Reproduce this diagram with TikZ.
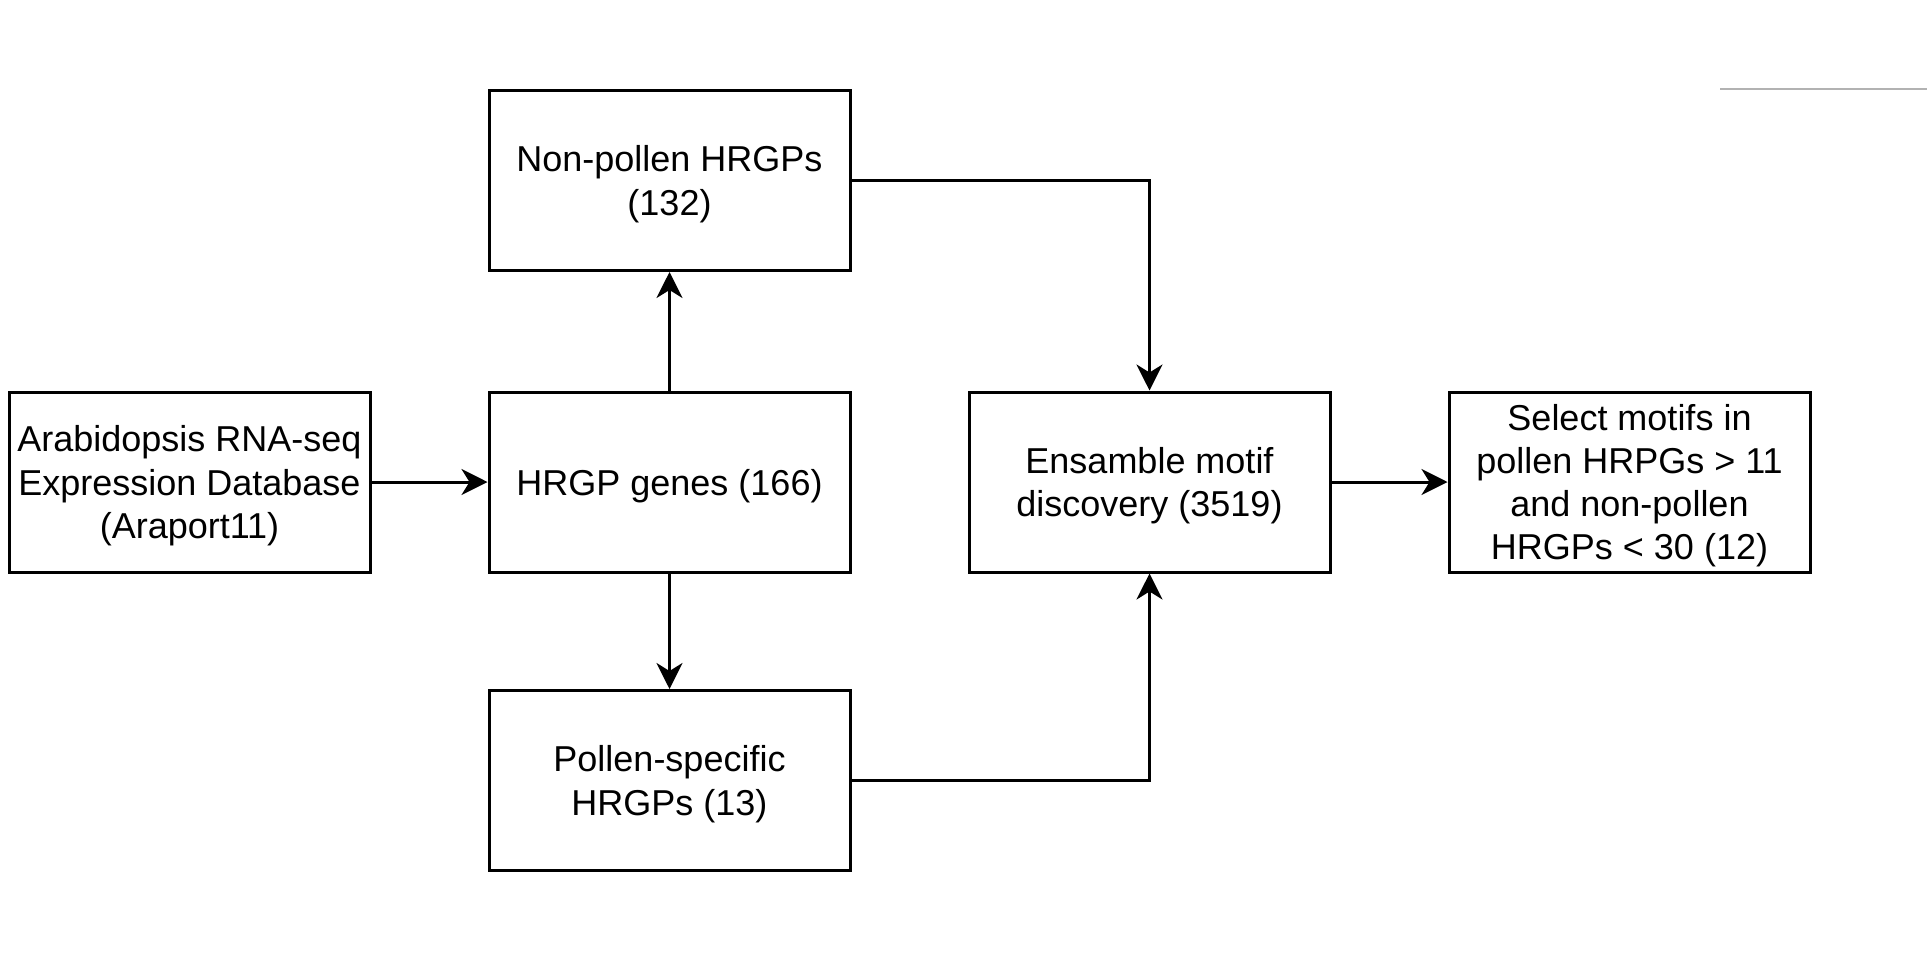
\documentclass[tikz,border=0pt]{standalone}
\usepackage{fontspec}
\setmainfont{Liberation Sans}
\usetikzlibrary{arrows.meta,positioning}

\tikzset{
  stepbox/.style={draw, line width=1.5pt, minimum width=180.5pt, minimum height=90pt,
    align=center, inner sep=2pt, text depth=-1.5pt, font=\fontsize{18}{21.6}\selectfont},
  flow/.style={line width=1.5pt, -{Stealth[length=13pt,width=13pt,inset=4pt]}}
}

\begin{document}
\begin{tikzpicture}[x=0.5pt,y=-0.5pt]
\useasboundingbox (0,0) rectangle (1927,959);

\node[stepbox] (araport) at (189.5,482) {Arabidopsis RNA-seq\\Expression Database\\(Araport11)};
\node[stepbox] (hrgp) at (669.5,482) {HRGP genes (166)};
\node[stepbox] (nonpollen) at (669.5,180.5) {Non-pollen HRGPs\\(132)};
\node[stepbox] (pollen) at (669.5,780.5) {Pollen-specific\\HRGPs (13)};
\node[stepbox] (motif) at (1149.5,482) {Ensamble motif\\discovery (3519)};
\node[stepbox] (select) at (1629.5,482) {Select motifs in\\pollen HRPGs > 11\\and non-pollen\\HRGPs < 30 (12)};

% connectors
\draw[flow] (araport) -- (hrgp);
\draw[flow] (hrgp) -- (nonpollen);
\draw[flow] (hrgp) -- (pollen);
\draw[flow] (nonpollen.east) -| (motif.north);
\draw[flow] (pollen.east) -| (motif.south);
\draw[flow] (motif) -- (select);

% faint rule, top right
\draw[gray!60, line width=1pt] (1720,89) -- (1927,89);
\end{tikzpicture}
\end{document}
